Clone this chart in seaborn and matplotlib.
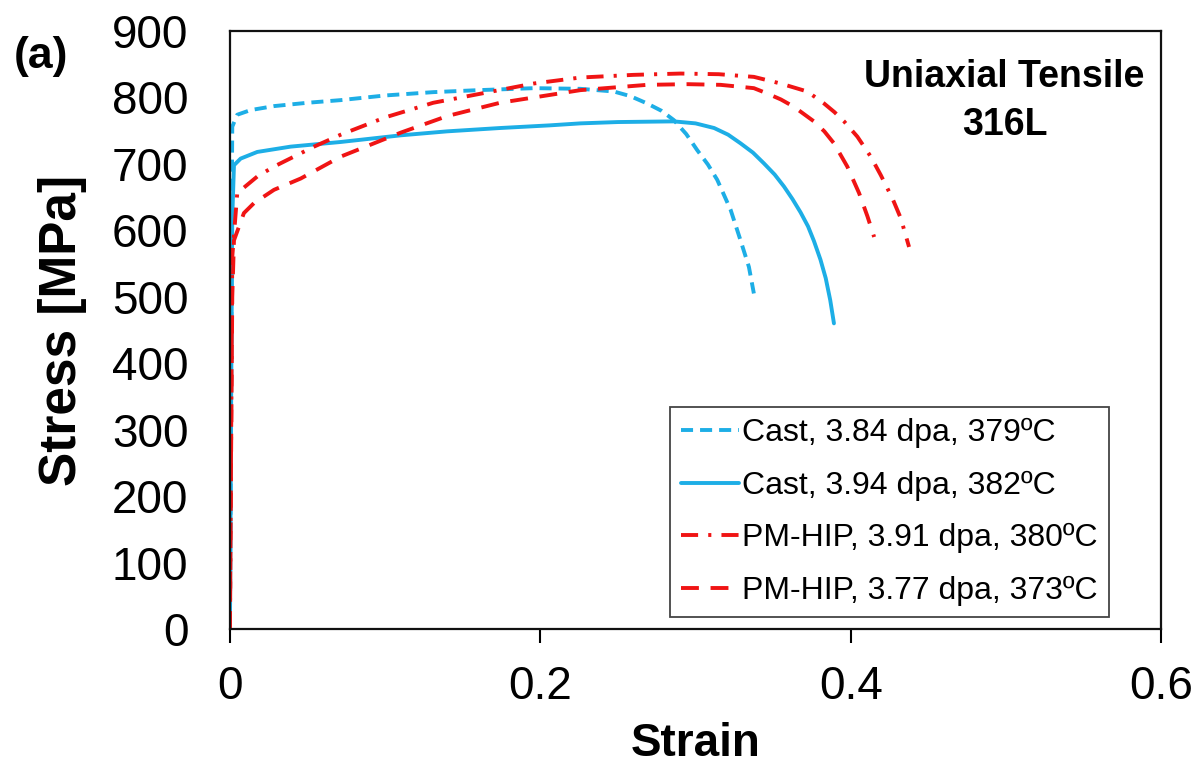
import numpy as np
import pandas as pd
import seaborn as sns
import matplotlib.pyplot as plt

# curve data (strain, MPa)
cast_384_strain = [0, 0.0008, 0.0012, 0.0015, 0.0047, 0.0133, 0.0284, 0.0499, 0.0714, 0.10, 0.131,
                   0.16, 0.196, 0.2258, 0.2473, 0.258, 0.2688, 0.278, 0.286, 0.294, 0.301, 0.308,
                   0.314, 0.3226, 0.329, 0.3344, 0.3376]
cast_384_stress = [0, 400, 650, 756, 774, 781, 787, 792, 796, 803, 808,
                   811, 814, 813, 809, 802, 791, 780, 766, 745, 721, 699,
                   676, 631, 585, 545, 505]

cast_394_strain = [0, 0.0008, 0.0015, 0.0026, 0.0069, 0.0176, 0.0391, 0.0714, 0.110, 0.14, 0.174,
                   0.206, 0.2258, 0.25, 0.286, 0.30, 0.312, 0.321, 0.329, 0.337, 0.344, 0.351,
                   0.357, 0.3625, 0.3677, 0.3725, 0.3763, 0.3805, 0.3839, 0.3868, 0.3892]
cast_394_stress = [0, 350, 620, 698, 708, 718, 726, 733, 743, 749, 754,
                   758, 761, 763, 764, 761, 754, 744, 731, 717, 701, 684,
                   666, 647, 627, 606, 584, 556, 528, 495, 460]

pmhip_391_strain = [0, 0.0008, 0.0015, 0.0047, 0.0176, 0.0284, 0.0542, 0.0714, 0.10, 0.131, 0.1957,
                    0.2258, 0.26, 0.2903, 0.315, 0.3376, 0.3548, 0.372, 0.3828, 0.3895, 0.3957, 0.4043,
                    0.4129, 0.4194, 0.4269, 0.4323, 0.4376]
pmhip_391_stress = [0, 300, 560, 656, 681, 696, 726, 744, 770, 792, 821,
                    830, 834, 836, 835, 831, 821, 809, 791, 778, 764, 741,
                    711, 683, 648, 618, 575]

pmhip_377_strain = [0, 0.0008, 0.0015, 0.0026, 0.009, 0.0155, 0.0284, 0.0456, 0.0714, 0.110, 0.14,
                    0.174, 0.2258, 0.2688, 0.295, 0.3161, 0.3376, 0.3462, 0.355, 0.3634, 0.3763,
                    0.383, 0.3892, 0.3978, 0.4054, 0.4108, 0.4151]
pmhip_377_stress = [0, 280, 500, 585, 626, 641, 661, 678, 711, 747, 772,
                    792, 811, 819, 820, 819, 814, 806, 797, 786, 764,
                    749, 731, 696, 656, 621, 590]

labels = ['Cast, 3.84 dpa, 379ºC', 'Cast, 3.94 dpa, 382ºC',
          'PM-HIP, 3.91 dpa, 380ºC', 'PM-HIP, 3.77 dpa, 373ºC']

blue = '#1DAEE6'
red = '#F01414'

curves = [
    (cast_384_strain, cast_384_stress, blue, (0, (3.1, 1.8))),
    (cast_394_strain, cast_394_stress, blue, '-'),
    (pmhip_391_strain, pmhip_391_stress, red, (0, (4.4, 2.6, 0.8, 2.6))),
    (pmhip_377_strain, pmhip_377_stress, red, (0, (4.6, 3.0))),
]

sns.set_theme(style='white')
plt.rcParams['font.family'] = ['Liberation Sans', 'DejaVu Sans']
plt.rcParams['text.color'] = 'black'
plt.rcParams['axes.labelcolor'] = 'black'
plt.rcParams['xtick.color'] = 'black'
plt.rcParams['ytick.color'] = 'black'

fig = plt.figure(figsize=(11.97, 7.64), dpi=100)
ax = fig.add_axes([0.1921, 0.1767, 0.7779, 0.7827])

for (xs, ys, col, ls), lab in zip(curves, labels):
    df = pd.DataFrame({'Strain': xs, 'Stress': ys})
    sns.lineplot(data=df, x='Strain', y='Stress', sort=False, color=col,
                 linestyle=ls, lw=2.8, label=lab, ax=ax)

ax.set_xlim(0, 0.6)
ax.set_ylim(0, 900)
ax.set_xticks([0, 0.2, 0.4, 0.6])
ax.set_xticklabels(['0', '0.2', '0.4', '0.6'])
ax.set_yticks(range(0, 901, 100))

ax.tick_params(axis='x', direction='out', length=10, width=1.5, pad=16, labelsize=33, bottom=True)
ax.tick_params(axis='y', length=0, pad=30, labelsize=33)

for s in ax.spines.values():
    s.set_color('#111111')
    s.set_linewidth(1.6)

ax.set_xlabel('Strain', fontsize=33, fontweight='bold', labelpad=9)
ax.set_ylabel('Stress [MPa]', fontsize=37, fontweight='bold', labelpad=18)

ax.text(0.832, 0.906, 'Uniaxial Tensile', transform=ax.transAxes, ha='center', va='baseline',
        fontsize=27, fontweight='bold')
ax.text(0.832, 0.826, '316L', transform=ax.transAxes, ha='center', va='baseline',
        fontsize=27, fontweight='bold')
fig.text(0.0117, 0.911, '(a)', fontsize=32, fontweight='bold', ha='left', va='baseline')

leg = ax.legend(loc='lower right', bbox_to_anchor=(0.944, 0.02), borderaxespad=0,
                fontsize=23, handlelength=1.8, handletextpad=0.1, labelspacing=0.7,
                borderpad=0.35, fancybox=False, framealpha=1)
leg.get_frame().set_edgecolor('#444444')
leg.get_frame().set_linewidth(1.3)

fig.savefig('out.png', dpi=100)
